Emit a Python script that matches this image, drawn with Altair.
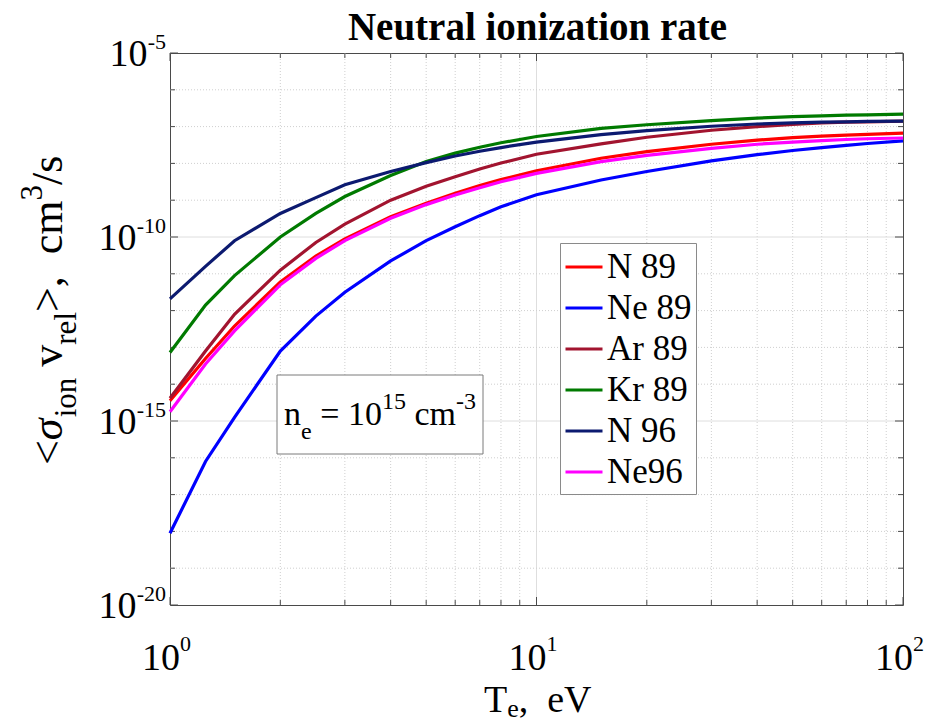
import altair as alt
import pandas as pd

# ---------------- data ----------------
T = [1, 1.25, 1.5, 2, 2.5, 3, 4, 5, 6, 7, 8, 10, 15, 20, 30, 40, 50, 60, 70, 80, 100]
# log10 of <sigma v>, cm^3/s
N89 = [-14.45, -13.30, -12.42, -11.22, -10.52, -10.05, -9.45, -9.08, -8.81, -8.60, -8.44, -8.20,
       -7.86, -7.68, -7.48, -7.37, -7.30, -7.26, -7.23, -7.21, -7.18]
Ne89 = [-18.05, -16.10, -14.90, -13.10, -12.15, -11.50, -10.65, -10.10, -9.72, -9.42, -9.18, -8.85,
        -8.45, -8.22, -7.93, -7.76, -7.65, -7.57, -7.51, -7.46, -7.39]
Ar89 = [-14.38, -13.10, -12.10, -10.90, -10.15, -9.65, -9.00, -8.62, -8.36, -8.15, -7.99, -7.75,
        -7.47, -7.29, -7.10, -7.00, -6.94, -6.90, -6.88, -6.87, -6.85]
Kr89 = [-13.14, -11.85, -11.05, -10.00, -9.36, -8.90, -8.33, -7.95, -7.72, -7.56, -7.44, -7.27,
        -7.05, -6.95, -6.84, -6.77, -6.73, -6.71, -6.69, -6.68, -6.66]
N96 = [-11.68, -10.80, -10.10, -9.36, -8.93, -8.58, -8.22, -7.98, -7.80, -7.67, -7.57, -7.42,
       -7.22, -7.11, -6.99, -6.93, -6.90, -6.88, -6.87, -6.86, -6.85]
Ne96 = [-14.75, -13.45, -12.55, -11.30, -10.58, -10.10, -9.49, -9.12, -8.86, -8.66, -8.50, -8.27,
        -7.95, -7.78, -7.59, -7.48, -7.42, -7.38, -7.35, -7.33, -7.31]

series_names = ["N 89", "Ne 89", "Ar 89", "Kr 89", "N 96", "Ne96"]
series_vals = [N89, Ne89, Ar89, Kr89, N96, Ne96]
series_colors = ["#ff0000", "#0000ff", "#a2142f", "#007a00", "#0c1a70", "#ff00ff"]

x_major = [1, 10, 100]
x_minor = [2, 3, 4, 5, 6, 7, 8, 9, 20, 30, 40, 50, 60, 70, 80, 90]
x_tick_exp = ["0", "1", "2"]
y_major = [1e-5, 1e-10, 1e-15, 1e-20]
y_major_exp = ["-5", "-10", "-15", "-20"]
y_minor = [10.0 ** -k for k in range(6, 20) if k not in (10, 15)]

# ---------------- layout ----------------
W, H = 733, 552
FONT = "Liberation Serif, Times New Roman, serif"
FRAME = "#4a4a4a"
NB = "\u00a0"

rows = []
for name, vals in zip(series_names, series_vals):
    for t, v in zip(T, vals):
        rows.append({"T": t, "rate": 10.0 ** v, "series": name})
df = pd.DataFrame(rows)

xs = alt.Scale(type="log", domain=[1, 100], nice=False)
ys = alt.Scale(type="log", domain=[1e-20, 1e-5], nice=False)

one = pd.DataFrame({"k": [0]})


def txt(text, x, y, size, angle=0, align="left", weight="normal", style="normal"):
    return alt.Chart(one).mark_text(
        text=text, fontSize=size, angle=angle, align=align, baseline="alphabetic",
        fontWeight=weight, fontStyle=style, font=FONT, color="black"
    ).encode(x=alt.value(x), y=alt.value(y))


layers = []

# grid
gx_minor = alt.Chart(pd.DataFrame({"T": x_minor})).mark_rule(
    color="#cfcfcf", strokeWidth=1, strokeDash=[1, 2]
).encode(x=alt.X("T:Q", scale=xs, axis=None), y=alt.value(0), y2=alt.value(H))
gx_major = alt.Chart(pd.DataFrame({"T": x_major[1:2]})).mark_rule(
    color="#dedede", strokeWidth=1
).encode(x=alt.X("T:Q", scale=xs, axis=None), y=alt.value(0), y2=alt.value(H))
gy_minor = alt.Chart(pd.DataFrame({"rate": y_minor})).mark_rule(
    color="#cfcfcf", strokeWidth=1, strokeDash=[1, 2]
).encode(y=alt.Y("rate:Q", scale=ys, axis=None), x=alt.value(0), x2=alt.value(W))
gy_major = alt.Chart(pd.DataFrame({"rate": y_major[1:3]})).mark_rule(
    color="#dedede", strokeWidth=1
).encode(y=alt.Y("rate:Q", scale=ys, axis=None), x=alt.value(0), x2=alt.value(W))
layers += [gx_minor, gx_major, gy_minor, gy_major]

# ticks (inside)
for vals, ln in ((x_minor, 5), (x_major, 8)):
    d = pd.DataFrame({"T": vals})
    layers.append(alt.Chart(d).mark_rule(color=FRAME, strokeWidth=1).encode(
        x=alt.X("T:Q", scale=xs, axis=None), y=alt.value(H), y2=alt.value(H - ln)))
    layers.append(alt.Chart(d).mark_rule(color=FRAME, strokeWidth=1).encode(
        x=alt.X("T:Q", scale=xs, axis=None), y=alt.value(0), y2=alt.value(ln)))
for vals, ln in ((y_minor, 5), (y_major, 8)):
    d = pd.DataFrame({"rate": vals})
    layers.append(alt.Chart(d).mark_rule(color=FRAME, strokeWidth=1).encode(
        y=alt.Y("rate:Q", scale=ys, axis=None), x=alt.value(0), x2=alt.value(ln)))
    layers.append(alt.Chart(d).mark_rule(color=FRAME, strokeWidth=1).encode(
        y=alt.Y("rate:Q", scale=ys, axis=None), x=alt.value(W), x2=alt.value(W - ln)))

# curves
lines = alt.Chart(df).mark_line(strokeWidth=3.2).encode(
    x=alt.X("T:Q", scale=xs, axis=None),
    y=alt.Y("rate:Q", scale=ys, axis=None),
    color=alt.Color(
        "series:N",
        scale=alt.Scale(domain=series_names, range=series_colors),
        sort=series_names,
        legend=alt.Legend(
            orient="none", legendX=390, legendY=190, title=None,
            symbolType="stroke", symbolSize=1369, symbolStrokeWidth=3,
            labelFontSize=35, labelFont=FONT, labelColor="black",
            strokeColor="#8a8a8a", fillColor="white", padding=4,
            rowPadding=3, labelOffset=3, labelLimit=0,
        ),
    ),
)
layers.append(lines)

# tick labels, x
xl = pd.DataFrame({"T": x_major, "e": x_tick_exp})
layers.append(alt.Chart(xl).mark_text(
    text="10", font=FONT, fontSize=38, align="right", baseline="alphabetic", dx=10, color="black"
).encode(x=alt.X("T:Q", scale=xs, axis=None), y=alt.value(H + 65)))
layers.append(alt.Chart(xl).mark_text(
    font=FONT, fontSize=22, align="left", baseline="alphabetic", dx=10, color="black"
).encode(x=alt.X("T:Q", scale=xs, axis=None), y=alt.value(H + 46), text="e:N"))

# tick labels, y (whole label right-aligned next to the axis)
yl_a = pd.DataFrame({"rate": y_major[:1], "e": y_major_exp[:1]})
yl_b = pd.DataFrame({"rate": y_major[1:], "e": y_major_exp[1:]})
for d, ew in ((yl_a, 18.5), (yl_b, 29.5)):
    layers.append(alt.Chart(d).mark_text(
        text="10", font=FONT, fontSize=38, align="right", baseline="alphabetic", dy=13, color="black"
    ).encode(y=alt.Y("rate:Q", scale=ys, axis=None), x=alt.value(-4 - ew)))
    layers.append(alt.Chart(d).mark_text(
        font=FONT, fontSize=22, align="right", baseline="alphabetic", dy=-4, color="black"
    ).encode(y=alt.Y("rate:Q", scale=ys, axis=None), x=alt.value(-4), text="e:N"))

# title
layers.append(txt("Neutral ionization rate", W / 2 + 1, -13, 39, align="center", weight="bold"))

# x axis title  T_e,  eV
x0 = 484 - 170
layers.append(txt("T", x0, 659, 38))
layers.append(txt("e", x0 + 23.2, 664, 26))
layers.append(txt("," + NB + NB + "eV", x0 + 23.2 + 11.5, 659, 38))

# y axis title  <sigma_ion v_rel>,  cm^3/s  (rotated)
yb = 412
xm, xsub, xsup = -108, -94, -128
pieces = [("<", 44, xm, 24.8, 0, "normal"), ("σ", 44, xm, 22.9, 0, "italic"),
          ("ion", 31, xsub, 39.6, 11.0, "normal"), ("v", 44, xm, 22.0, 0, "normal"),
          ("rel", 31, xsub, 32.7, 0, "normal"), (">," + NB + NB + "cm", 44, xm, 111.6, 0, "normal"),
          ("3", 31, xsup, 15.5, 0, "normal"), ("/s", 44, xm, 29.3, 0, "normal")]
pos = yb
for s, sz, xx, w, gap, st in pieces:
    layers.append(txt(s, xx, pos, sz, angle=270, style=st))
    pos -= w + gap

# annotation box  n_e = 10^15 cm^-3
layers.append(alt.Chart(one).mark_rect(fill="white", stroke="#7a7a7a", strokeWidth=1).encode(
    x=alt.value(107), x2=alt.value(313), y=alt.value(322), y2=alt.value(401)))
layers.append(txt("n", 114, 372, 34))
layers.append(txt("e", 131, 386, 24))
layers.append(txt("=", 150.2, 372, 34))
layers.append(txt("10", 177.9, 372, 34))
layers.append(txt("15", 211.9, 356, 24))
layers.append(txt("cm", 244.4, 372, 34))
layers.append(txt("-3", 285.9, 356, 24))

chart = alt.layer(*layers).properties(
    width=W, height=H,
    autosize=alt.AutoSizeParams(type="none"),
    padding={"left": 170, "top": 53, "right": 27, "bottom": 121},
    background="white",
).configure_view(stroke=FRAME, strokeWidth=1)

chart.save("out.html", embed_options={"renderer": "svg", "actions": False})
